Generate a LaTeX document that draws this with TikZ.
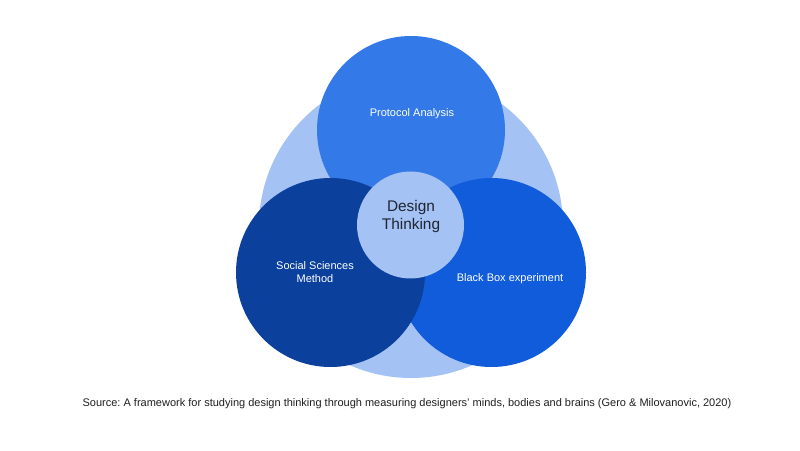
\documentclass[tikz,border=0pt]{standalone}
\usepackage{fontspec}
\setmainfont{Liberation Sans}
\frenchspacing
\definecolor{cLight}{HTML}{A4C2F4}
\definecolor{cTop}{HTML}{3479E8}
\definecolor{cLeft}{HTML}{0B409C}
\definecolor{cRight}{HTML}{105CDB}
\definecolor{cDark}{HTML}{1F2430}
\begin{document}
\begin{tikzpicture}[x=1pt,y=1pt,
  disc/.style={circle,inner sep=0pt,draw=none,minimum size=#1},
  lbl/.style={text=white,align=center,font={\fontsize{11}{13}\selectfont}},
  core/.style={text=cDark,align=center,font={\fontsize{15.4}{18}\selectfont}},
  src/.style={text=black!88,font={\fontsize{11}{13}\selectfont}}]
\useasboundingbox (0,0) rectangle (800,450);
\fill[white] (0,0) rectangle (800,450);
\node[disc=304pt,fill=cLight] (big) at (411,224) {};
\node[disc=188pt,fill=cTop] (top) at (411,320) {};
\node[disc=189pt,fill=cRight] (right) at (491.5,177.5) {};
\node[disc=189pt,fill=cLeft] (left) at (330.5,177.5) {};
\node[disc=107pt,fill=cLight] (center) at (410.5,225) {};
\node[lbl] (tlab) at (412,336) {Protocol Analysis};
\node[lbl] (llab) at (315,177.5) {Social Sciences\\Method};
\node[lbl] (rlab) at (510,171) {Black Box experiment};
\node[core] (clab) at (411,233) {Design\\Thinking};
\node[src] (source) at (407,46) {Source: A framework for studying design thinking through measuring designers' minds, bodies and brains (Gero \& Milovanovic, 2020)};
\end{tikzpicture}
\end{document}
